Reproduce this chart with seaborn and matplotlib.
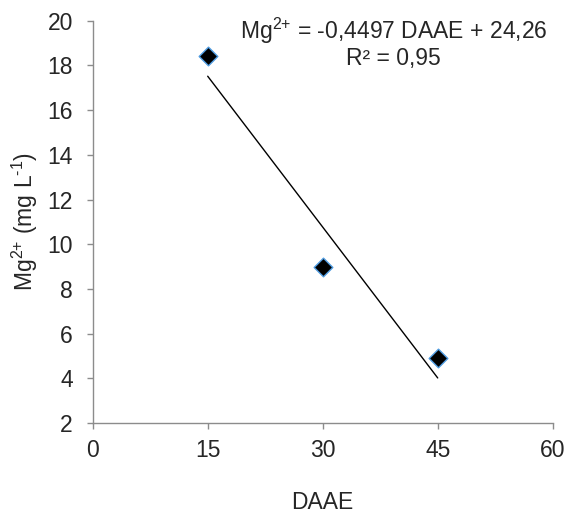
import numpy as np
import pandas as pd
import matplotlib
matplotlib.use("Agg")
import matplotlib.pyplot as plt
import seaborn as sns

# data
daae = [15, 30, 45]
mg = [18.4, 9.0, 4.9]
x_ticks = [0, 15, 30, 45, 60]
y_ticks = [2, 4, 6, 8, 10, 12, 14, 16, 18, 20]
eq_line1 = r"Mg$^{\text{2+}}$ = -0,4497 DAAE + 24,26"
eq_line2 = "R² = 0,95"

df = pd.DataFrame({"DAAE": daae, "Mg": mg})

sns.set_style("white")
plt.rcParams["font.family"] = ["Liberation Sans", "DejaVu Sans"]
plt.rcParams["mathtext.fontset"] = "custom"
plt.rcParams["mathtext.rm"] = "Liberation Sans"
plt.rcParams["mathtext.it"] = "Liberation Sans"
plt.rcParams["mathtext.default"] = "regular"

fs = 16.5
fig = plt.figure(figsize=(5.68, 5.14), dpi=100)
ax = fig.add_axes([0.1632, 0.177, 0.8099, 0.7827])

# linear trendline (fitted from the points)
sns.regplot(data=df, x="DAAE", y="Mg", ax=ax, scatter=False, ci=None,
            truncate=True, color="black", line_kws={"linewidth": 1})
sns.scatterplot(data=df, x="DAAE", y="Mg", ax=ax, marker="D", s=90,
                color="black", edgecolor="#4f9be0", linewidth=1, zorder=3)

ax.set_xlim(0, 60)
ax.set_ylim(2, 20)
ax.set_xticks(x_ticks)
ax.set_yticks(y_ticks)
ax.tick_params(axis="both", labelsize=fs, length=4.3, width=1, color="#8c8c8c",
               direction="out", left=True, bottom=True)
ax.tick_params(axis="x", pad=7)
ax.tick_params(axis="y", pad=10)
for side in ["top", "right"]:
    ax.spines[side].set_visible(False)
for side in ["left", "bottom"]:
    ax.spines[side].set_color("#8c8c8c")
    ax.spines[side].set_linewidth(1)

ax.set_xlabel("DAAE", fontsize=fs)
ax.xaxis.set_label_coords(0.5, -0.168)
ax.set_ylabel(r"Mg$^{\text{2+}}$ (mg L$^{\text{-1}}$)", fontsize=fs, labelpad=5)

ax.text(0.654, 0.956, eq_line1, transform=ax.transAxes, ha="center",
        va="baseline", fontsize=fs)
ax.text(0.654, 0.890, eq_line2, transform=ax.transAxes, ha="center",
        va="baseline", fontsize=fs)

fig.savefig("out.png", dpi=100)
